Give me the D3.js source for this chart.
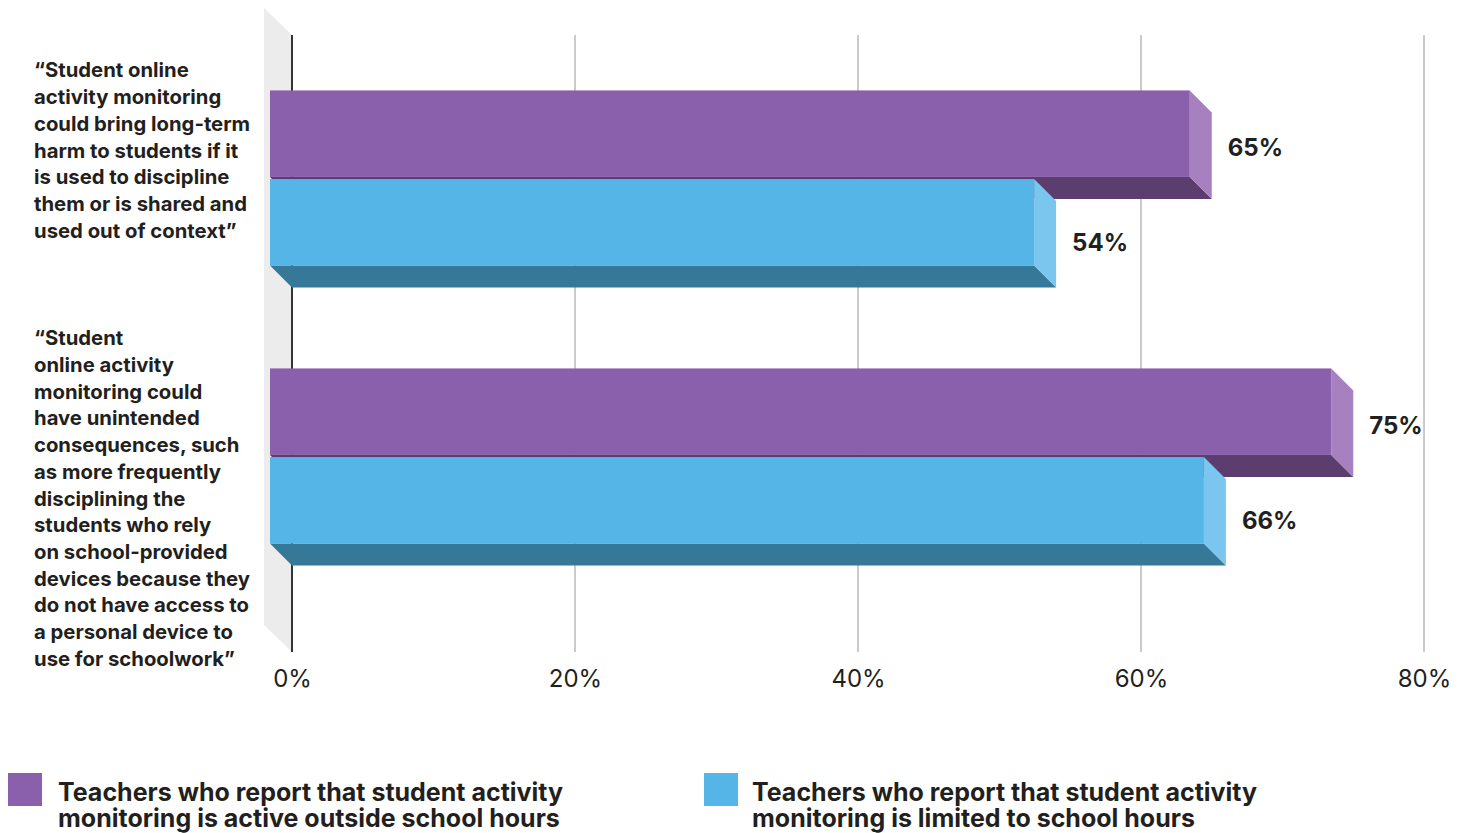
<!DOCTYPE html>
<html>
<head>
<meta charset="utf-8">
<script src="https://cdn.jsdelivr.net/npm/d3@7"></script>
<style>
  html, body { margin: 0; padding: 0; background: #fff; }
  svg { display: block; font-family: Inter, Roboto, "Noto Sans", sans-serif; }
</style>
</head>
<body>
<svg id="chart" width="1466" height="833"></svg>
<script>
// Statements asked about (one per group of bars)
const categories = ["harm", "consequences"];
const categoryLabels = [
  ["\u201CStudent online", "activity monitoring", "could bring long-term", "harm to students if it",
   "is used to discipline", "them or is shared and", "used out of context\u201D"],
  ["\u201CStudent", "online activity", "monitoring could", "have unintended", "consequences, such",
   "as more frequently", "disciplining the", "students who rely", "on school-provided",
   "devices because they", "do not have access to", "a personal device to", "use for schoolwork\u201D"]
];

// Series: share of teachers agreeing, by monitoring schedule
const seriesKeys = ["outside", "limited"];
const seriesNames = [
  ["Teachers who report that student activity", "monitoring is active outside school hours"],
  ["Teachers who report that student activity", "monitoring is limited to school hours"]
];
const outsideValues = [65, 75];
const limitedValues = [54, 66];

const tickValues = [0, 20, 40, 60, 80];

// Face colours for each series: front, side (end cap), bottom
const palette = {
  outside: { front: "#8a5fac", side: "#a680bf", bottom: "#5b3d6e" },
  limited: { front: "#55b5e6", side: "#7bc6ee", bottom: "#367898" }
};

const svg = d3.select("#chart");
const depth = 22;        // 3D offset of the bar faces
const wallDepth = 28;    // depth of the left wall
const plotTop = 35, plotBottom = 652;

const x = d3.scaleLinear().domain([0, 80]).range([292, 1424]);
const y0 = d3.scaleBand().domain(categories).range([61, 617])
  .paddingInner(0.37).paddingOuter(0.185);
const y1 = d3.scaleBand().domain(seriesKeys).range([0, y0.bandwidth()]).paddingInner(0.024);

const rows = categories.map((c, i) => ({
  cat: c,
  values: [
    { key: "outside", value: outsideValues[i] },
    { key: "limited", value: limitedValues[i] }
  ]
}));

// Left wall
svg.append("path")
  .attr("d", `M${x(0) - wallDepth},${plotTop - wallDepth + 1} L${x(0)},${plotTop} L${x(0)},${plotBottom} L${x(0) - wallDepth},${plotBottom - wallDepth + 1} Z`)
  .attr("fill", "#ececec");

// Gridlines on the back plane
svg.append("g").selectAll("line")
  .data(tickValues.filter(d => d > 0))
  .join("line")
  .attr("x1", d => x(d)).attr("x2", d => x(d))
  .attr("y1", plotTop).attr("y2", plotBottom)
  .attr("stroke", "#cbcbcb").attr("stroke-width", 2);

svg.append("line")
  .attr("x1", x(0)).attr("x2", x(0))
  .attr("y1", plotTop).attr("y2", plotBottom)
  .attr("stroke", "#333").attr("stroke-width", 2);

// Axis labels
const axis = d3.axisBottom(x).tickValues(tickValues).tickFormat(d => d + "%").tickSize(0).tickPadding(18);
const axisG = svg.append("g").attr("transform", `translate(0,${plotBottom})`).call(axis);
axisG.select(".domain").remove();
axisG.selectAll("text")
  .attr("font-size", 24).attr("fill", "#231f20")
  .style("font-family", "Inter, Roboto, sans-serif").style("font-weight", 400);

// 3D bars
const groups = svg.append("g").selectAll("g")
  .data(rows).join("g")
  .attr("transform", d => `translate(0,${y0(d.cat)})`);

groups.each(function(row) {
  const g = d3.select(this);
  row.values.forEach(v => {
    const col = palette[v.key];
    const yb = y1(v.key), h = y1.bandwidth();
    const xb = x(v.value), x0 = x(0);
    // back-plane rectangle: x0..xb, yb..yb+h ; front face shifted by -depth
    const fx0 = x0 - depth, fx1 = xb - depth, fy0 = yb - depth, fy1 = yb + h - depth;
    // bottom face
    g.append("path")
      .attr("d", `M${fx0},${fy1} L${fx1},${fy1} L${xb},${yb + h} L${x0},${yb + h} Z`)
      .attr("fill", col.bottom);
    // side face
    g.append("path")
      .attr("d", `M${fx1},${fy0} L${xb},${yb} L${xb},${yb + h} L${fx1},${fy1} Z`)
      .attr("fill", col.side);
    // front face
    g.append("rect")
      .attr("x", fx0).attr("y", fy0)
      .attr("width", fx1 - fx0).attr("height", h)
      .attr("fill", col.front);
    // value label
    const shift = v.key === "outside" ? -8 : -2;
    g.append("text")
      .attr("x", xb + 16)
      .attr("y", yb + h / 2 - depth / 2 + 11 + shift)
      .attr("dy", "0.35em")
      .attr("font-size", 24).attr("font-weight", 700).attr("fill", "#231f20")
      .text(v.value + "%");
  });
});

// Category labels
const labelShift = [-42.5, 27.5];
const lineH = 26.7;
categories.forEach((c, i) => {
  const lines = categoryLabels[i];
  const mid = y0(c) + y0.bandwidth() / 2 + labelShift[i];
  const t = svg.append("text")
    .attr("font-size", 20.3).attr("font-weight", 700).attr("fill", "#231f20");
  lines.forEach((ln, j) => {
    t.append("tspan")
      .attr("x", 34)
      .attr("y", mid + (j - (lines.length - 1) / 2) * lineH)
      .text(ln);
  });
});

// Legend
const legendX = [8, 704];
const legendTextX = [50, 48];
seriesKeys.forEach((k, i) => {
  const lg = svg.append("g").attr("transform", `translate(${legendX[i]},773)`);
  lg.append("rect").attr("width", 34).attr("height", 33).attr("fill", palette[k].front);
  const t = lg.append("text")
    .attr("font-size", 25).attr("font-weight", 700).attr("fill", "#231f20");
  seriesNames[i].forEach((ln, j) => {
    t.append("tspan").attr("x", legendTextX[i]).attr("y", 27.5 + j * 26.2).text(ln);
  });
});
</script>
</body>
</html>
